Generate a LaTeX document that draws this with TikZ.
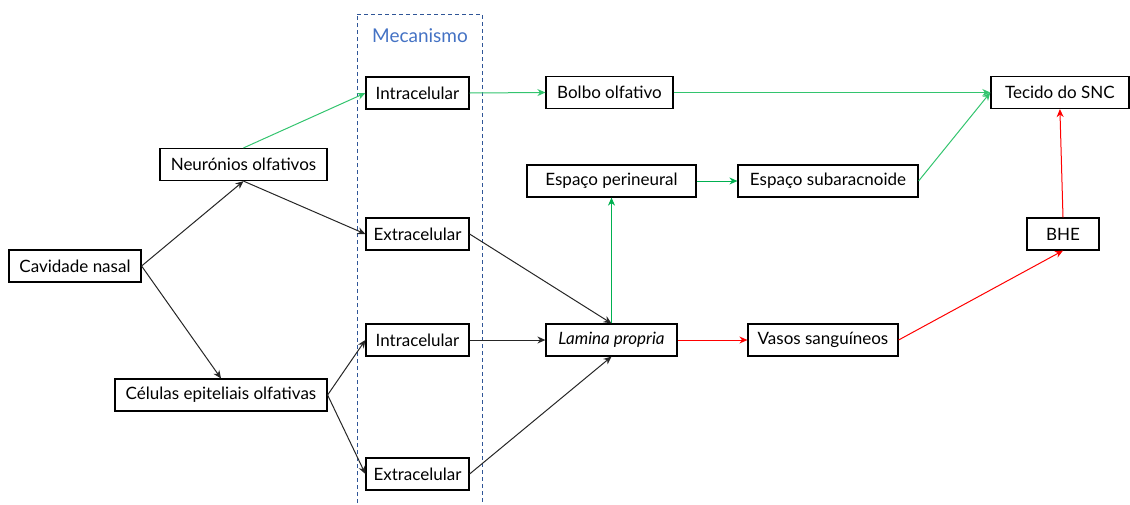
\documentclass[tikz,border=0pt]{standalone}
\usepackage{fontspec}
\setmainfont{Lato}
\usetikzlibrary{arrows.meta}
\definecolor{gr}{HTML}{00B050}
\definecolor{lgr}{HTML}{33C46E}
\definecolor{rd}{HTML}{FF0000}
\definecolor{mblue}{HTML}{4472C4}
\definecolor{dblue}{HTML}{2F5597}
\begin{document}
\begin{tikzpicture}[x=1pt,y=-1pt,
  box/.style={draw=black,line width=1.2pt,fill=white,inner sep=0pt,minimum height=32pt,font=\fontsize{17}{20}\selectfont},
  arr/.style={-{Stealth[length=8pt,width=7pt]},line width=1pt},
  blk/.style={arr,draw=black!85},
  grn/.style={arr,draw=gr},
  lgrn/.style={arr,draw=lgr},
  red/.style={arr,draw=rd}]
\useasboundingbox (0,0) rectangle (1130,504);
\draw[dblue,line width=1pt,dash pattern=on 4pt off 3pt] (357,14) -- (482,14) -- (482,510) (357,510) -- (357,14);
\node[text=mblue,font=\fontsize{19}{22}\selectfont] (mec) at (420,36) {Mecanismo};
\node[box,minimum width=103pt] (i1) at (417.5,93) {Intracelular};
\node[box,minimum width=127pt] (bo) at (609.5,92.5) {Bolbo olfativo};
\node[box,minimum width=138pt,anchor=east] (snc) at (1129.5,92.5) {Tecido do SNC};
\node[box,minimum width=167pt] (neu) at (243.5,164.5) {Neurónios olfativos};
\node[box,minimum width=169pt] (ep) at (611.5,181) {Espaço perineural};
\node[box,minimum width=180pt] (es) at (828,181) {Espaço subaracnoide};
\node[box,minimum width=103pt] (e1) at (417.5,234) {Extracelular};
\node[box,minimum width=72pt] (bhe) at (1063,234) {BHE};
\node[box,minimum width=132pt] (cav) at (75,266) {Cavidade nasal};
\node[box,minimum width=103pt] (i2) at (417.5,340) {Intracelular};
\node[box,minimum width=131pt] (lp) at (611.5,340) {\itshape Lamina propria};
\node[box,minimum width=150pt] (vs) at (823,340) {Vasos sanguíneos};
\node[box,minimum width=212pt] (cel) at (221,395) {Células epiteliais olfativas};
\node[box,minimum width=103pt] (e2) at (417.5,474) {Extracelular};
\draw[blk] (cav.east) -- (neu.south);
\draw[blk] (cav.east) -- (cel.north);
\draw[lgrn] (neu.north) -- (i1.west);
\draw[blk] (neu.south) -- (e1.west);
\draw[blk] (cel.east) -- (i2.west);
\draw[blk] (cel.east) -- (e2.west);
\draw[lgrn] (i1.east) -- (bo.west);
\draw[lgrn] (bo.east) -- (snc.west);
\draw[blk] (e1.east) -- (lp.north);
\draw[blk] (i2.east) -- (lp.west);
\draw[blk] (e2.east) -- (lp.south);
\draw[grn] (lp.north) -- (ep.south);
\draw[grn] (ep.east) -- (es.west);
\draw[lgrn] (es.east) -- (snc.west);
\draw[red] (lp.east) -- (vs.west);
\draw[red] (vs.east) -- (bhe.south);
\draw[red] (bhe.north) -- (snc.south);
\end{tikzpicture}
\end{document}
